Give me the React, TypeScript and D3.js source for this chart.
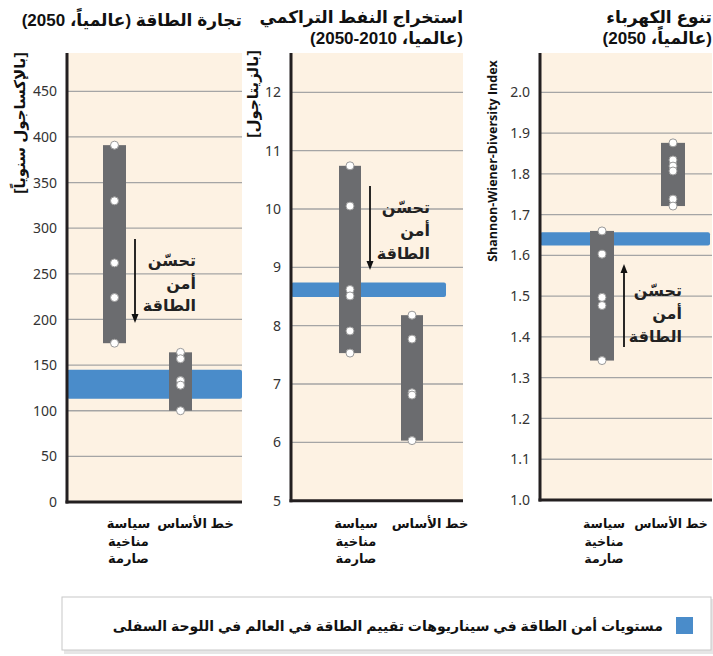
import React from "react";
import * as d3 from "d3";

// ---------- data ----------
const p1Policy = [391, 330, 262, 224, 174];
const p1Baseline = [164, 157, 133, 128, 100];
const p1Band = [113, 145];
const p1Ticks = [0, 50, 100, 150, 200, 250, 300, 350, 400, 450];

const p2Policy = [10.74, 10.05, 8.62, 8.51, 7.91, 7.53];
const p2Baseline = [8.18, 7.77, 6.85, 6.81, 6.03];
const p2Band = [8.49, 8.74];
const p2Ticks = [5, 6, 7, 8, 9, 10, 11, 12];

const p3Policy = [1.66, 1.603, 1.497, 1.477, 1.342];
const p3Baseline = [1.876, 1.834, 1.819, 1.807, 1.738, 1.721];
const p3Band = [1.624, 1.657];
const p3Ticks = [1.0, 1.1, 1.2, 1.3, 1.4, 1.5, 1.6, 1.7, 1.8, 1.9, 2.0];

const categories = ["policy", "baseline"];
const policyLabel = ["سياسة", "مناخية", "صارمة"];
const baselineLabel = "خط الأساس";
const arrowLabel = ["تحسّن", "أمن", "الطاقة"];
const legendLabel = "مستويات أمن الطاقة في سيناريوهات تقييم الطاقة في العالم في اللوحة السفلى";

const BG = "#fdf2e3";
const BAR = "#6b6c6f";
const BLUE = "#4a8cca";
const GRID = "#a5a5a5";
const AXIS = "#231f20";
const FONT = "'Liberation Sans', 'DejaVu Sans', sans-serif";
const TICKFONT = "'Noto Sans', 'Open Sans', sans-serif";

type PanelProps = {
  x0: number; x1: number; yTop: number; yBottom: number; yTopTick: number;
  domain: [number, number]; ticks: number[]; fmt: (v: number) => string;
  policy: number[]; baseline: number[]; band: number[]; bandEnd: number;
  barX: [number, number]; barW: number;
  labelOffset: [number, number]; labelSize: number;
  arrow: { x: number; from: number; to: number; tx: number; ty: number[] };
  title: string[]; titleY: number[];
  yLabel: string; yLabelX: number; yLabelY: number; yLabelFont: string; yLabelSize: number;
};

function Panel(p: PanelProps) {
  const y = d3.scaleLinear().domain(p.domain).range([p.yBottom, p.yTopTick]);
  const x = d3.scaleOrdinal<string, number>().domain(categories).range(p.barX);
  const series = [p.policy, p.baseline];
  return (
    <g>
      <rect x={p.x0} y={p.yTop} width={p.x1 - p.x0} height={p.yBottom - p.yTop} fill={BG} />
      {p.ticks.slice(1).map((t) => (
        <line key={t} x1={p.x0} x2={p.x1} y1={y(t)} y2={y(t)} stroke={GRID} strokeWidth={1.3} />
      ))}
      <rect x={p.x0} y={y(p.band[1])} width={p.bandEnd - p.x0} height={y(p.band[0]) - y(p.band[1])} fill={BLUE} rx={2} />
      {series.map((vals, i) => {
        const cx = x(categories[i]);
        const lo = d3.min(vals)!;
        const hi = d3.max(vals)!;
        return (
          <g key={i}>
            <rect x={cx - p.barW / 2} y={y(hi)} width={p.barW} height={y(lo) - y(hi)} fill={BAR} />
            {vals.map((v, j) => (
              <circle key={j} cx={cx} cy={y(v)} r={4} fill="#fff" stroke="#9a9a9a" strokeWidth={1} />
            ))}
          </g>
        );
      })}
      <line x1={p.x0} x2={p.x0} y1={p.yTop} y2={p.yBottom + 1.5} stroke={AXIS} strokeWidth={3} />
      <line x1={p.x0 - 1.5} x2={p.x1} y1={p.yBottom} y2={p.yBottom} stroke={AXIS} strokeWidth={3} />
      {p.ticks.map((t) => (
        <text key={t} x={p.x0 - 10} y={y(t)} dy="0.36em" textAnchor="end" fontFamily={TICKFONT} fontSize={14} fill="#333">
          {p.fmt(t)}
        </text>
      ))}
      {/* arrow */}
      <line x1={p.arrow.x} x2={p.arrow.x} y1={p.arrow.from} y2={p.arrow.to + (p.arrow.to > p.arrow.from ? -7 : 7)} stroke="#111" strokeWidth={1.8} />
      <path
        d={p.arrow.to > p.arrow.from
          ? `M${p.arrow.x - 3.5},${p.arrow.to - 9} L${p.arrow.x + 3.5},${p.arrow.to - 9} L${p.arrow.x},${p.arrow.to} Z`
          : `M${p.arrow.x - 3.5},${p.arrow.to + 9} L${p.arrow.x + 3.5},${p.arrow.to + 9} L${p.arrow.x},${p.arrow.to} Z`}
        fill="#111"
      />
      {arrowLabel.map((s, i) => (
        <text key={i} x={p.arrow.tx} y={p.arrow.ty[i]} direction="rtl" textAnchor="start" fontFamily={FONT} fontWeight="bold" fontSize={16} fill="#222">
          {s}
        </text>
      ))}
      {/* category labels */}
      {policyLabel.map((s, i) => (
        <text key={i} x={x("policy") + p.labelOffset[0]} y={528 + i * 17.5} direction="rtl" textAnchor="middle" fontFamily={FONT} fontWeight="bold" fontSize={p.labelSize} fill="#111">
          {s}
        </text>
      ))}
      <text x={x("baseline") + p.labelOffset[1]} y={528} direction="rtl" textAnchor="middle" fontFamily={FONT} fontWeight="bold" fontSize={p.labelSize} fill="#111">
        {baselineLabel}
      </text>
      {/* titles */}
      {p.title.map((s, i) => (
        <text key={i} x={p.x1} y={p.titleY[i]} direction="rtl" textAnchor="start" fontFamily={FONT} fontWeight="bold" fontSize={17} fill="#111">
          {s}
        </text>
      ))}
      <text
        transform={`translate(${p.yLabelX},${p.yLabelY}) rotate(-90)`}
        direction="rtl"
        textAnchor="middle"
        dy="0.35em"
        fontFamily={p.yLabelFont}
        fontWeight="bold"
        fontSize={p.yLabelSize}
        fill="#111"
      >
        {p.yLabel}
      </text>
    </g>
  );
}

export default function App() {
  return (
    <svg width={713} height={656} style={{ position: "absolute", left: 0, top: 0 }}>
      <rect width={713} height={656} fill="#fff" />
      <Panel
        x0={67} x1={242} yTop={53} yBottom={502} yTopTick={91.3}
        domain={[0, 450]} ticks={p1Ticks} fmt={(v) => String(v)}
        policy={p1Policy} baseline={p1Baseline} band={p1Band} bandEnd={242}
        barX={[114.5, 180.5]} barW={23} labelOffset={[14, 15]} labelSize={13}
        arrow={{ x: 135, from: 239, to: 323, tx: 196, ty: [266, 289, 311] }}
        title={["تجارة الطاقة (عالمياً، 2050)"]} titleY={[26]}
        yLabel="[بالإكساجول سنوياً]" yLabelX={20} yLabelY={123} yLabelFont={FONT} yLabelSize={15}
      />
      <Panel
        x0={291} x1={463} yTop={53} yBottom={500.7} yTopTick={92.3}
        domain={[5, 12]} ticks={p2Ticks} fmt={(v) => String(v)}
        policy={p2Policy} baseline={p2Baseline} band={p2Band} bandEnd={446}
        barX={[350, 412]} barW={22} labelOffset={[6, 18]} labelSize={13}
        arrow={{ x: 370, from: 186, to: 270, tx: 430, ty: [213, 236, 259] }}
        title={["استخراج النفط التراكمي", "(عالميا، 2010-2050)"]} titleY={[23, 44]}
        yLabel="[بالزيتاجول]" yLabelX={253} yLabelY={94} yLabelFont={FONT} yLabelSize={15}
      />
      <Panel
        x0={540} x1={712} yTop={53} yBottom={500} yTopTick={92.3}
        domain={[1, 2]} ticks={p3Ticks} fmt={d3.format(".1f")}
        policy={p3Policy} baseline={p3Baseline} band={p3Band} bandEnd={710}
        barX={[602, 673]} barW={24} labelOffset={[2, -2]} labelSize={12.5}
        arrow={{ x: 624, from: 347, to: 264, tx: 682, ty: [296, 319, 342] }}
        title={["تنوع الكهرباء", "(عالمياً، 2050)"]} titleY={[23, 44]}
        yLabel="Shannon-Wiener-Diversity Index" yLabelX={493} yLabelY={161} yLabelFont="'Open Sans', sans-serif" yLabelSize={12.5}
      />
      {/* legend */}
      <rect x={64} y={599} width={651} height={55} fill="#e6e6e6" />
      <rect x={62} y={597} width={649} height={53} fill="#fff" stroke="#c8c8c8" strokeWidth={1} />
      <rect x={676} y={617} width={17} height={17} fill={BLUE} />
      <text x={663} y={631} direction="rtl" textAnchor="start" fontFamily={FONT} fontWeight="bold" fontSize={14} fill="#111">
        {legendLabel}
      </text>
    </svg>
  );
}
